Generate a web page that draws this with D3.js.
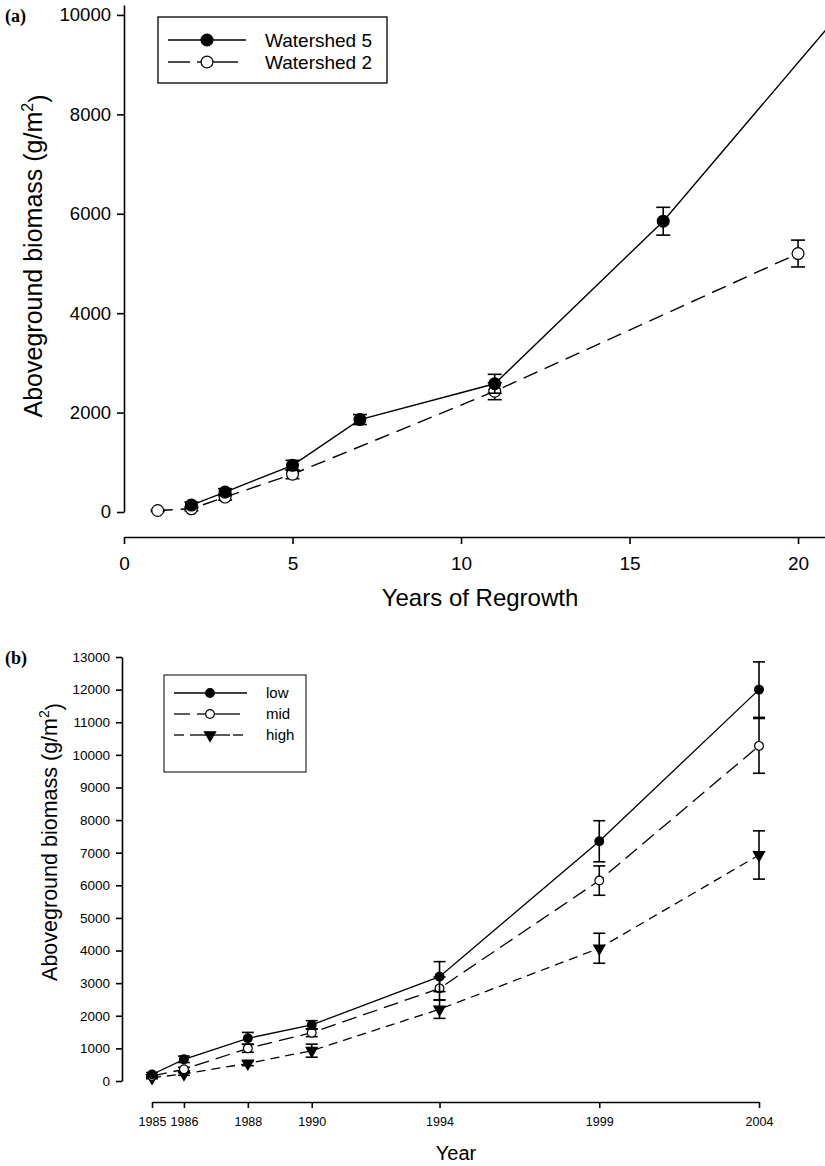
<!DOCTYPE html>
<head>
  <meta charset="utf-8">
  <script src="https://d3js.org/d3.v7.min.js"></script>
  <style>
  body { margin: 0; background: #fff; }
  text { font-family: Arial, "Liberation Sans", sans-serif; fill: #000; }
  .axis path, .axis line { stroke: #000; stroke-width: 1.6px; }
  .panel-tag { font-family: "Times New Roman", "Liberation Serif", serif; font-weight: bold; }
  </style>
</head>
<body>
<svg width="825" height="1166"></svg>

<script type="text/javascript">
// Panel (a): biomass vs years of regrowth
var yearsW5 = [2, 3, 5, 7, 11, 16, 21];
var biomassW5 = [140, 400, 940, 1860, 2580, 5850, 9840];
var errW5 = [60, 70, 100, 100, 190, 280, 0];
var yearsW2 = [1, 2, 3, 5, 11, 20];
var biomassW2 = [30, 65, 300, 760, 2430, 5200];
var errW2 = [20, 40, 60, 90, 170, 270];
var ticksA = [0, 5, 10, 15, 20];
var yTicksA = [0, 2000, 4000, 6000, 8000, 10000];

// Panel (b): biomass by year for low / mid / high
var yearsB = [1985, 1986, 1988, 1990, 1994, 1999, 2004];
var lowB = [200, 665, 1310, 1720, 3200, 7350, 12000];
var lowErr = [60, 100, 180, 130, 460, 630, 850];
var midB = [150, 360, 1000, 1480, 2840, 6145, 10275];
var midErr = [40, 60, 120, 120, 350, 450, 840];
var highB = [100, 215, 540, 930, 2200, 4070, 6930];
var highErr = [30, 40, 70, 200, 280, 460, 740];
var yTicksB = d3.range(0, 13001, 1000);

var svg = d3.select("svg");

function zip(xs, ys, es) {
  return xs.map(function(x, i) { return {x: x, y: ys[i], e: es[i]}; });
}

// draw one series: line, error bars, markers
function drawSeries(g, data, x, y, opt) {
  g.append("path")
    .datum(data)
    .attr("fill", "none")
    .attr("stroke", "#000")
    .attr("stroke-width", opt.lw)
    .attr("stroke-dasharray", opt.dash)
    .attr("d", d3.line().x(function(d) { return x(d.x); }).y(function(d) { return y(d.y); }));

  var eb = g.append("g").attr("stroke", "#000").attr("stroke-width", 1.6);
  data.filter(function(d) { return d.e > 0; }).forEach(function(d) {
    var cx = x(d.x);
    eb.append("line").attr("x1", cx).attr("x2", cx).attr("y1", y(d.y - d.e)).attr("y2", y(d.y + d.e));
    eb.append("line").attr("x1", cx - opt.cap).attr("x2", cx + opt.cap).attr("y1", y(d.y + d.e)).attr("y2", y(d.y + d.e));
    eb.append("line").attr("x1", cx - opt.cap).attr("x2", cx + opt.cap).attr("y1", y(d.y - d.e)).attr("y2", y(d.y - d.e));
  });

  g.selectAll(null).data(data).enter()
    .append("path")
    .attr("transform", function(d) {
      return "translate(" + x(d.x) + "," + y(d.y) + ")" + (opt.tri ? " rotate(180)" : "");
    })
    .attr("d", d3.symbol().type(opt.tri ? d3.symbolTriangle : d3.symbolCircle).size(opt.size))
    .attr("fill", opt.fill)
    .attr("stroke", "#000")
    .attr("stroke-width", 1.2);
}

function legendRow(g, x0, yy, label, opt, fs) {
  if (opt.dash) {
    opt.segs.forEach(function(s) {
      g.append("line").attr("x1", s[0]).attr("x2", s[1]).attr("y1", yy).attr("y2", yy)
        .attr("stroke", "#000").attr("stroke-width", opt.lw);
    });
  } else {
    g.append("line").attr("x1", x0).attr("x2", x0 + opt.len).attr("y1", yy).attr("y2", yy)
      .attr("stroke", "#000").attr("stroke-width", opt.lw);
  }
  g.append("path")
    .attr("transform", "translate(" + opt.mx + "," + yy + ")" + (opt.tri ? " rotate(180)" : ""))
    .attr("d", d3.symbol().type(opt.tri ? d3.symbolTriangle : d3.symbolCircle).size(opt.size))
    .attr("fill", opt.fill).attr("stroke", "#000").attr("stroke-width", 1.2);
  g.append("text").attr("x", opt.tx).attr("y", yy + fs * 0.36).style("font-size", fs + "px").text(label);
}

// ---------- panel (a) ----------
var xA = d3.scaleLinear().domain([0, 20.8]).range([124, 825]);
var yA = d3.scaleLinear().domain([0, 10200]).range([512, 5]);

svg.append("g").attr("class", "axis")
  .attr("transform", "translate(124,0)")
  .call(d3.axisLeft(yA).tickValues(yTicksA).tickSize(7).tickPadding(6).tickSizeOuter(0).tickFormat(d3.format("d")))
  .selectAll("text").style("font-size", "18.5px").style("font-family", "Arial, 'Liberation Sans', sans-serif");

svg.append("g").attr("class", "axis")
  .attr("transform", "translate(0,537)")
  .call(d3.axisBottom(xA).tickValues(ticksA).tickSize(7).tickPadding(13).tickSizeOuter(0))
  .selectAll("text").style("font-size", "19px").style("font-family", "Arial, 'Liberation Sans', sans-serif");

var gA = svg.append("g");
drawSeries(gA, zip(yearsW2, biomassW2, errW2), xA, yA, {lw: 1.4, dash: "15,8", cap: 7, size: 110, fill: "#fff"});
drawSeries(gA, zip(yearsW5, biomassW5, errW5), xA, yA, {lw: 1.4, dash: null, cap: 7, size: 110, fill: "#000"});

svg.append("text").attr("class", "panel-tag").attr("x", 5).attr("y", 22).style("font-size", "18px").text("(a)");

svg.append("text").attr("x", 480).attr("y", 606).attr("text-anchor", "middle")
  .style("font-size", "24px").text("Years of Regrowth");

var labA = svg.append("text").attr("transform", "translate(42,256) rotate(-90)").attr("text-anchor", "middle")
  .style("font-size", "25px");
labA.append("tspan").text("Aboveground biomass (g/m");
labA.append("tspan").attr("dy", "-0.55em").style("font-size", "16px").text("2");
labA.append("tspan").attr("dy", "0.55em").text(")");

var legA = svg.append("g");
legA.append("rect").attr("x", 158).attr("y", 17).attr("width", 229).attr("height", 66)
  .attr("fill", "#fff").attr("stroke", "#000").attr("stroke-width", 1.3);
legendRow(legA, 168, 40, "Watershed 5", {lw: 1.6, len: 78, mx: 207, tx: 265, size: 110, fill: "#000"}, 19);
legendRow(legA, 168, 62, "Watershed 2", {lw: 1.4, dash: true, segs: [[168, 190], [197, 220], [220, 238]], mx: 207, tx: 265, size: 110, fill: "#fff"}, 19);

// ---------- panel (b) ----------
var xB = d3.scaleLinear().domain([1985, 2004]).range([152, 759]);
var yB = d3.scaleLinear().domain([0, 13000]).range([1081, 657]);

svg.append("g").attr("class", "axis")
  .attr("transform", "translate(122,0)")
  .call(d3.axisLeft(yB).tickValues(yTicksB).tickSize(6).tickPadding(6).tickSizeOuter(0).tickFormat(d3.format("d")))
  .selectAll("text").style("font-size", "13.5px").style("font-family", "Arial, 'Liberation Sans', sans-serif");

svg.append("g").attr("class", "axis")
  .attr("transform", "translate(0,1102)")
  .call(d3.axisBottom(xB).tickValues(yearsB).tickSize(6).tickPadding(9).tickSizeOuter(0).tickFormat(d3.format("d")))
  .selectAll("text").style("font-size", "12.5px").style("font-family", "Arial, 'Liberation Sans', sans-serif");

var gB = svg.append("g");
drawSeries(gB, zip(yearsB, highB, highErr), xB, yB, {lw: 1.3, dash: "9,6", cap: 6, size: 55, fill: "#000", tri: true});
drawSeries(gB, zip(yearsB, midB, midErr), xB, yB, {lw: 1.3, dash: "15,7", cap: 6, size: 60, fill: "#fff"});
drawSeries(gB, zip(yearsB, lowB, lowErr), xB, yB, {lw: 1.3, dash: null, cap: 6, size: 60, fill: "#000"});

svg.append("text").attr("class", "panel-tag").attr("x", 5).attr("y", 664).style("font-size", "18px").text("(b)");

svg.append("text").attr("x", 456).attr("y", 1160).attr("text-anchor", "middle")
  .style("font-size", "20px").text("Year");

var labB = svg.append("text").attr("transform", "translate(57,842) rotate(-90)").attr("text-anchor", "middle")
  .style("font-size", "21.5px");
labB.append("tspan").text("Aboveground biomass (g/m");
labB.append("tspan").attr("dy", "-0.55em").style("font-size", "14px").text("2");
labB.append("tspan").attr("dy", "0.55em").text(")");

var legB = svg.append("g");
legB.append("rect").attr("x", 164).attr("y", 675).attr("width", 142).attr("height", 97)
  .attr("fill", "#fff").attr("stroke", "#000").attr("stroke-width", 1);
legendRow(legB, 174, 693, "low", {lw: 1.3, len: 73, mx: 210, tx: 266, size: 60, fill: "#000"}, 15);
legendRow(legB, 174, 714, "mid", {lw: 1.3, dash: true, segs: [[174, 190], [197, 222], [222, 240]], mx: 210, tx: 266, size: 60, fill: "#fff"}, 15);
legendRow(legB, 174, 735, "high", {lw: 1.3, dash: true, segs: [[174, 184], [190, 200], [200, 230], [233, 243]], mx: 210, tx: 266, size: 55, fill: "#000", tri: true}, 15);
</script>
</body>
</html>
